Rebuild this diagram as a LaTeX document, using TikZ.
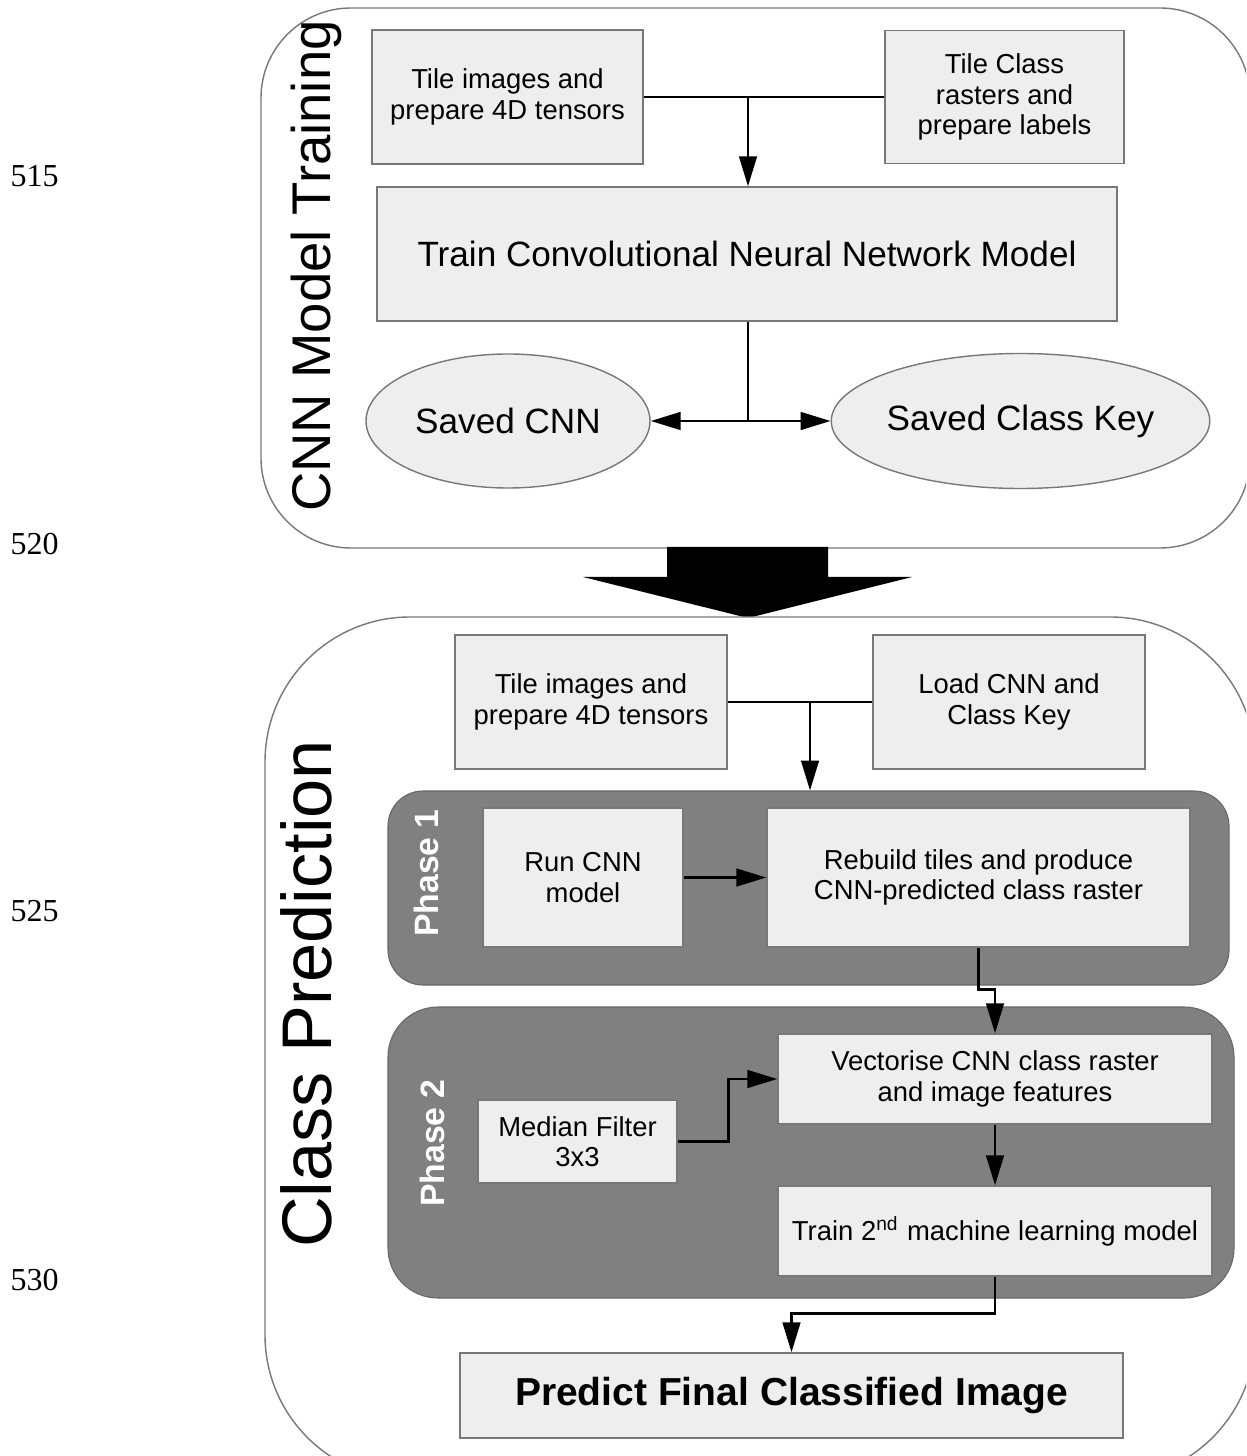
\documentclass[tikz,border=0pt]{standalone}
\usepackage{fontspec}
\setmainfont{Liberation Sans}
\newfontfamily\numfont{Liberation Serif}
\usepackage{xcolor}
\usepackage{tikz}
\usetikzlibrary{arrows.meta,shapes.geometric}
\definecolor{boxfill}{RGB}{238,238,238}
\definecolor{boxline}{RGB}{120,120,120}
\definecolor{phasegray}{RGB}{128,128,128}

\begin{document}
\begin{tikzpicture}[
  stepbox/.style={draw=boxline, fill=boxfill, line width=0.4pt, align=center, inner sep=0pt,
    font=\fontsize{7.8}{8.7}\selectfont},
  oval/.style={ellipse, draw=boxline, fill=boxfill, line width=0.4pt, inner sep=0pt,
    font=\fontsize{10}{12}\selectfont},
  frame/.style={draw=boxline, fill=white, line width=0.4pt, inner sep=0pt},
  phasebox/.style={fill=phasegray, draw=phasegray!80!black, line width=0.3pt, inner sep=0pt},
  phaselbl/.style={rotate=90, text=white, font=\fontsize{9.6}{11}\selectfont\bfseries},
  flow/.style={-{Triangle[length=8.5pt,width=5pt]}, line width=0.75pt},
  every node/.style={font=\fontsize{7.8}{8.7}\selectfont}]
\useasboundingbox (0,0) rectangle (12.46,-14.56);
\clip (0,0) rectangle (12.46,-14.56);
% ---- line numbers
\foreach \n/\y in {515/-1.76,520/-5.44,525/-9.11,530/-12.80}
  {\node[anchor=west, inner sep=0pt, font=\numfont\fontsize{9.1}{11}\selectfont] (ln\n) at (0.10,\y) {\n};}
% ---- Part 1: CNN model training
\node[frame, rounded corners=0.9cm, minimum width=9.89cm, minimum height=5.40cm] (frametrain) at (7.555,-2.78) {};
\node[rotate=90, font=\fontsize{15.5}{18}\selectfont] (lbltrain) at (3.16,-2.66) {CNN Model Training};
\node[stepbox, minimum width=2.71cm, minimum height=1.34cm] (tileimg) at (5.075,-0.97) {Tile images and\\prepare 4D tensors};
\node[stepbox, minimum width=2.39cm, minimum height=1.33cm] (tileclass) at (10.045,-0.97) {Tile Class\\rasters and\\prepare labels};
\node[stepbox, minimum width=7.40cm, minimum height=1.34cm, font=\fontsize{10}{12}\selectfont] (train) at (7.47,-2.54) {Train Convolutional Neural Network Model};
\node[oval, minimum width=2.84cm, minimum height=1.34cm] (savedcnn) at (5.08,-4.21) {Saved CNN};
\node[oval, minimum width=3.73cm, minimum height=1.35cm] (savedkey) at (10.205,-4.21) {Saved Class Key};
\coordinate (jin) at (7.48,-0.97);
\coordinate (jout) at (7.48,-4.21);
\draw[line width=0.75pt] (tileimg) -- (tileclass);
\draw[flow] (jin) -- (jin |- train.north);
\draw[line width=0.75pt] (jin |- train.south) -- (jout);
\draw[flow] (jout) -- (savedcnn);
\draw[flow] (jout) -- (savedkey);
% ---- big arrow between the parts
\fill[black] (6.67,-5.47) -- (8.28,-5.47) -- (8.28,-5.77) -- (9.12,-5.77) -- (7.48,-6.18)
  -- (5.83,-5.77) -- (6.67,-5.77) -- cycle;
% ---- Part 2: class prediction
\node[frame, rounded corners=1.45cm, minimum width=9.90cm, minimum height=8.63cm] (framepred) at (7.60,-10.485) {};
\node[rotate=90, font=\fontsize{20}{24}\selectfont] (lblpred) at (3.06,-9.94) {Class Prediction};
\node[stepbox, minimum width=2.72cm, minimum height=1.34cm] (tileimgb) at (5.91,-7.02) {Tile images and\\prepare 4D tensors};
\node[stepbox, minimum width=2.72cm, minimum height=1.34cm] (loadcnn) at (10.09,-7.02) {Load CNN and\\Class Key};
\node[phasebox, rounded corners=0.35cm, minimum width=8.41cm, minimum height=1.94cm] (phaseone) at (8.085,-8.88) {};
\node[phasebox, rounded corners=0.5cm, minimum width=8.46cm, minimum height=2.91cm] (phasetwo) at (8.11,-11.525) {};
\node[phaselbl] (lblone) at (4.26,-8.73) {Phase 1};
\node[phaselbl] (lbltwo) at (4.32,-11.43) {Phase 2};
\node[stepbox, minimum width=2.00cm, minimum height=1.39cm] (runcnn) at (5.83,-8.775) {Run CNN\\model};
\node[stepbox, minimum width=4.23cm, minimum height=1.39cm] (rebuild) at (9.785,-8.775) {Rebuild tiles and produce\\CNN-predicted class raster};
\node[stepbox, minimum width=1.99cm, minimum height=0.83cm] (median) at (5.775,-11.415) {Median Filter\\3x3};
\node[stepbox, minimum width=4.34cm, minimum height=0.90cm] (vector) at (9.95,-10.79) {Vectorise CNN class raster\\and image features};
\node[stepbox, minimum width=4.34cm, minimum height=0.90cm] (trainml) at (9.95,-12.31) {Train 2\textsuperscript{nd} machine learning model};
\node[stepbox, minimum width=6.63cm, minimum height=0.85cm, font=\fontsize{11.1}{13}\selectfont\bfseries] (final) at (7.915,-13.955) {Predict Final Classified Image};
\coordinate (jload) at (8.10,-7.02);
\draw[line width=0.75pt] (tileimgb) -- (loadcnn);
\draw[flow] (jload) -- (jload |- phaseone.north);
\draw[flow] (runcnn) -- (rebuild);
\draw[flow] (rebuild.south) -- ++(0,-0.42) -| (vector.north);
\draw[flow] (median.east) -- ++(0.51,0) |- (vector.west);
\draw[flow] (vector) -- (trainml);
\draw[flow] (trainml.south) -- ++(0,-0.37) -| (final.north);
\end{tikzpicture}
\end{document}
